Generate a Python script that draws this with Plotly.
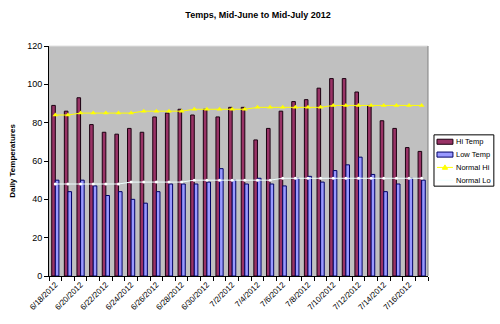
import plotly.graph_objects as go

dates = ["6/18/2012", "6/19/2012", "6/20/2012", "6/21/2012", "6/22/2012", "6/23/2012",
         "6/24/2012", "6/25/2012", "6/26/2012", "6/27/2012", "6/28/2012", "6/29/2012",
         "6/30/2012", "7/1/2012", "7/2/2012", "7/3/2012", "7/4/2012", "7/5/2012",
         "7/6/2012", "7/7/2012", "7/8/2012", "7/9/2012", "7/10/2012", "7/11/2012",
         "7/12/2012", "7/13/2012", "7/14/2012", "7/15/2012", "7/16/2012", "7/17/2012"]
hi_temp = [89, 86, 93, 79, 75, 74, 77, 75, 83, 85, 87, 84, 87, 83, 88,
           88, 71, 77, 86, 91, 92, 98, 103, 103, 96, 89, 81, 77, 67, 65]
low_temp = [50, 44, 50, 47, 42, 44, 40, 38, 44, 48, 48, 48, 49, 56, 50,
            48, 51, 48, 47, 51, 52, 49, 55, 58, 62, 53, 44, 48, 51, 50]
normal_hi = [84, 84, 85, 85, 85, 85, 85, 86, 86, 86, 86, 87, 87, 87, 87,
             87, 88, 88, 88, 88, 88, 88, 89, 89, 89, 89, 89, 89, 89, 89]
normal_lo = [48, 48, 48, 48, 48, 48, 49, 49, 49, 49, 49, 50, 50, 50, 50,
             50, 50, 50, 51, 51, 51, 51, 51, 51, 51, 51, 51, 51, 51, 51]
tick_text = [d if i % 2 == 0 else "" for i, d in enumerate(dates)]
series_names = ["Hi Temp", "Low Temp", "Normal Hi", "Normal Lo"]

FONT = "Liberation Sans, Arial, sans-serif"
HI_COLOR, HI_EDGE = "#993366", "#1a0010"
LO_COLOR, LO_EDGE = "#9999FF", "#000066"
NHI_COLOR, NLO_COLOR = "#FFFF00", "#EEFFFF"

fig = go.Figure()
fig.add_trace(go.Bar(x=dates, y=hi_temp, name=series_names[0],
                     marker=dict(color=HI_COLOR, line=dict(color=HI_EDGE, width=1))))
fig.add_trace(go.Bar(x=dates, y=low_temp, name=series_names[1],
                     marker=dict(color=LO_COLOR, line=dict(color=LO_EDGE, width=1))))
fig.add_trace(go.Scatter(x=dates, y=normal_hi, name=series_names[2], mode="lines+markers",
                         line=dict(color=NHI_COLOR, width=1),
                         marker=dict(symbol="triangle-up", size=5, color=NHI_COLOR)))
fig.add_trace(go.Scatter(x=dates, y=normal_lo, name=series_names[3], mode="lines+markers",
                         line=dict(color=NLO_COLOR, width=1),
                         marker=dict(symbol="circle", size=3, color="#FFFFFF")))

# ---- legend box drawn in paper coordinates (Excel-style compact legend) ----
L_X0, L_X1, L_Y0, L_Y1 = 1.0158, 1.1737, 0.3906, 0.6137
SYM_X0, SYM_X1, TXT_X = 1.0237, 1.0658, 1.0705
ROW_Y = [0.5837, 0.5279, 0.4721, 0.4163]
HH = 0.011
shapes = [
    dict(type="line", xref="paper", yref="paper", x0=0, x1=1, y0=1, y1=1,
         line=dict(color="#E0E0E0", width=1)),
    dict(type="line", xref="paper", yref="paper", x0=1, x1=1, y0=0, y1=1,
         line=dict(color="#808080", width=1)),
    dict(type="rect", xref="paper", yref="paper", x0=L_X0, x1=L_X1, y0=L_Y0, y1=L_Y1,
         line=dict(color="black", width=1), fillcolor="white"),
    dict(type="rect", xref="paper", yref="paper", x0=SYM_X0, x1=SYM_X1,
         y0=ROW_Y[0] - HH, y1=ROW_Y[0] + HH, line=dict(color=HI_EDGE, width=1),
         fillcolor=HI_COLOR),
    dict(type="rect", xref="paper", yref="paper", x0=SYM_X0, x1=SYM_X1,
         y0=ROW_Y[1] - HH, y1=ROW_Y[1] + HH, line=dict(color=LO_EDGE, width=1),
         fillcolor=LO_COLOR),
    dict(type="line", xref="paper", yref="paper", x0=SYM_X0, x1=SYM_X1,
         y0=ROW_Y[2], y1=ROW_Y[2], line=dict(color=NHI_COLOR, width=1)),
    dict(type="path", xref="paper", yref="paper",
         path="M {a},{b} L {c},{b} L {d},{e} Z".format(
             a=(SYM_X0 + SYM_X1) / 2 - 0.007, c=(SYM_X0 + SYM_X1) / 2 + 0.007,
             d=(SYM_X0 + SYM_X1) / 2, b=ROW_Y[2] - 0.008, e=ROW_Y[2] + 0.011),
         line=dict(color=NHI_COLOR, width=1), fillcolor=NHI_COLOR),
    dict(type="line", xref="paper", yref="paper", x0=SYM_X0, x1=SYM_X1,
         y0=ROW_Y[3], y1=ROW_Y[3], line=dict(color=NLO_COLOR, width=1)),
]
annotations = [dict(text=n, xref="paper", yref="paper", x=TXT_X, y=y, xanchor="left",
                    yanchor="middle", showarrow=False, borderpad=0,
                    font=dict(size=7.5, family=FONT))
               for n, y in zip(series_names, ROW_Y)]

fig.update_layout(
    width=500, height=324,
    margin=dict(l=48, r=72, t=46, b=45),
    paper_bgcolor="white", plot_bgcolor="#C0C0C0",
    barmode="group", bargap=0.43, bargroupgap=0,
    font=dict(family=FONT, size=9, color="black"),
    title=dict(text="<b>Temps, Mid-June to Mid-July 2012</b>", x=0.516, xanchor="center",
               y=0.955, yanchor="middle", font=dict(size=9, family=FONT)),
    showlegend=False,
    xaxis=dict(type="category", tickvals=dates, ticktext=tick_text, tickangle=-45,
               range=[-0.5, len(dates) - 0.5],
               tickson="boundaries", ticks="outside", ticklen=4, tickcolor="black",
               showline=True, linecolor="black", linewidth=1, showgrid=False,
               tickfont=dict(size=8, family=FONT)),
    yaxis=dict(range=[0, 120], dtick=20, ticks="outside", ticklen=4, tickcolor="black",
               showline=True, linecolor="black", linewidth=1, showgrid=False,
               zeroline=False, tickfont=dict(size=9, family=FONT),
               title=dict(text="<b>Daily Temperatures</b>", font=dict(size=8, family=FONT),
                          standoff=10)),
    shapes=shapes,
    annotations=annotations,
)

fig.write_html("out.html")
